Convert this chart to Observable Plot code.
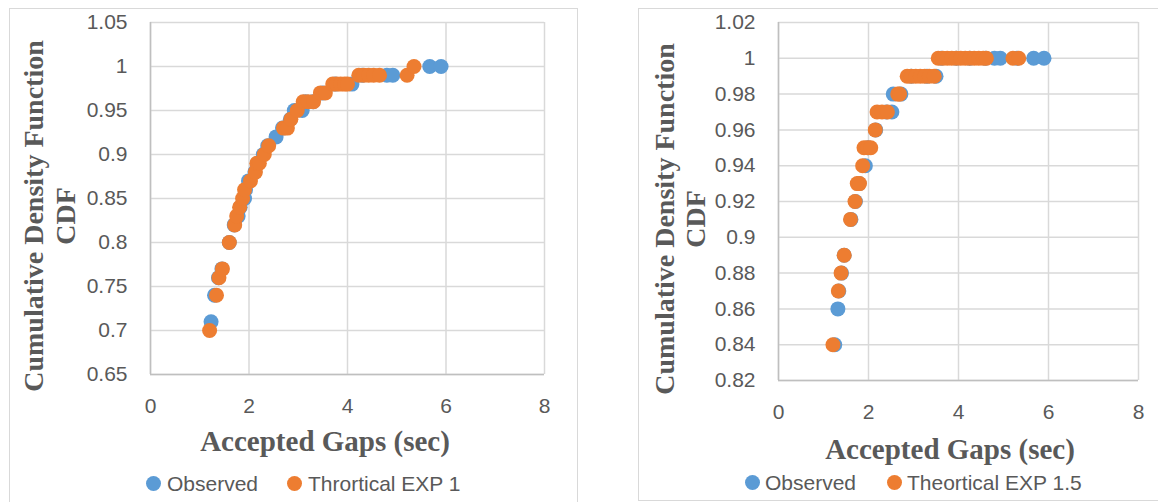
<!DOCTYPE html>
<html>
<head>
<meta charset="utf-8">
<script src="https://cdn.jsdelivr.net/npm/d3@7"></script>
<script src="https://cdn.jsdelivr.net/npm/@observablehq/plot@0.6"></script>
<style>
  html, body { margin: 0; padding: 0; background: #fff; }
  #wrap { position: relative; width: 1158px; height: 502px; overflow: hidden; background: #fff; }
  .panel { position: absolute; border: 1px solid #d9d9d9; box-sizing: border-box; }
  .xtitle { position: absolute; transform: translate(-50%, -50%); font-family: "Liberation Serif", "Times New Roman", serif; font-weight: bold; font-size: 29px; line-height: 29px; color: #595959; white-space: nowrap; }
  .ytitle { position: absolute; transform: translate(-50%, -50%) rotate(-90deg); font-family: "Liberation Serif", "Times New Roman", serif; font-weight: bold; font-size: 28px; color: #595959; white-space: pre; text-align: center; }
  .leg { position: absolute; font-family: "Liberation Sans", Arial, sans-serif; font-size: 21px; line-height: 21px; color: #595959; white-space: nowrap; }
  .dotk { position: absolute; width: 15px; height: 15px; border-radius: 50%; }
</style>
</head>
<body>
<div id="wrap"></div>
<script>
// ---------- data ----------
const xTicks = [0, 2, 4, 6, 8];
const leftYTicks = [0.65, 0.70, 0.75, 0.80, 0.85, 0.90, 0.95, 1.00, 1.05];
const rightYTicks = [0.82, 0.84, 0.86, 0.88, 0.90, 0.92, 0.94, 0.96, 0.98, 1.00, 1.02];

const leftSeries = ["Observed", "Thrortical EXP 1"];
const rightSeries = ["Observed", "Theortical EXP 1.5"];
const seriesColors = ["#5B9BD5", "#ED7D31"];

const xTitle = "Accepted Gaps (sec)";
const yTitleLines = ["Cumulative Density Function", "CDF"];

// Left chart
const leftObsX = [1.23, 1.30, 1.38, 1.45, 1.60, 1.70, 1.78, 1.82, 1.91, 1.93, 1.99, 2.12, 2.17, 2.29, 2.38, 2.55, 2.68, 2.84, 2.92, 3.08, 3.15, 3.30, 3.50, 3.75, 4.09, 4.30, 4.80, 4.92, 5.67, 5.90];
const leftObsY = [0.71, 0.74, 0.76, 0.77, 0.80, 0.82, 0.83, 0.84, 0.85, 0.86, 0.87, 0.88, 0.89, 0.90, 0.91, 0.92, 0.93, 0.94, 0.95, 0.95, 0.96, 0.96, 0.97, 0.98, 0.98, 0.99, 0.99, 0.99, 1.00, 1.00];
const leftTheoX = [1.20, 1.34, 1.39, 1.46, 1.60, 1.71, 1.75, 1.81, 1.87, 1.91, 2.03, 2.13, 2.16, 2.21, 2.31, 2.40, 2.70, 2.78, 2.85, 2.98, 3.10, 3.20, 3.31, 3.45, 3.55, 3.70, 3.78, 3.86, 3.94, 4.00, 4.23, 4.33, 4.43, 4.53, 4.65, 5.21, 5.35];
const leftTheoY = [0.70, 0.74, 0.76, 0.77, 0.80, 0.82, 0.83, 0.84, 0.85, 0.86, 0.87, 0.88, 0.89, 0.89, 0.90, 0.91, 0.93, 0.93, 0.94, 0.95, 0.96, 0.96, 0.96, 0.97, 0.97, 0.98, 0.98, 0.98, 0.98, 0.98, 0.99, 0.99, 0.99, 0.99, 0.99, 0.99, 1.00];

// Right chart
const rightObsX = [1.25, 1.32, 1.34, 1.40, 1.46, 1.61, 1.71, 1.79, 1.93, 1.99, 2.16, 2.40, 2.52, 2.55, 2.72, 2.95, 3.30, 3.50, 3.62, 3.95, 4.25, 4.60, 4.80, 4.93, 5.30, 5.67, 5.90];
const rightObsY = [0.84, 0.86, 0.87, 0.88, 0.89, 0.91, 0.92, 0.93, 0.94, 0.95, 0.96, 0.97, 0.97, 0.98, 0.98, 0.99, 0.99, 0.99, 1.00, 1.00, 1.00, 1.00, 1.00, 1.00, 1.00, 1.00, 1.00];
const rightTheoX = [1.21, 1.33, 1.39, 1.46, 1.60, 1.70, 1.75, 1.80, 1.87, 1.90, 1.98, 2.05, 2.15, 2.19, 2.30, 2.42, 2.65, 2.69, 2.86, 2.95, 3.05, 3.15, 3.25, 3.35, 3.46, 3.55, 3.65, 3.75, 3.85, 3.95, 4.05, 4.15, 4.25, 4.35, 4.45, 4.55, 4.62, 5.21, 5.34];
const rightTheoY = [0.84, 0.87, 0.88, 0.89, 0.91, 0.92, 0.93, 0.93, 0.94, 0.95, 0.95, 0.95, 0.96, 0.97, 0.97, 0.97, 0.98, 0.98, 0.99, 0.99, 0.99, 0.99, 0.99, 0.99, 0.99, 1.00, 1.00, 1.00, 1.00, 1.00, 1.00, 1.00, 1.00, 1.00, 1.00, 1.00, 1.00, 1.00, 1.00];

// ---------- helpers ----------
const toRows = (xs, ys, s) => xs.map((x, i) => ({x, y: ys[i], s}));
const fmt = d => String(+d.toFixed(2));
const wrap = document.getElementById("wrap");

function makeChart(cfg) {
  const data = [
    ...toRows(cfg.obsX, cfg.obsY, cfg.series[0]),
    ...toRows(cfg.theoX, cfg.theoY, cfg.series[1])
  ];
  const yMin = cfg.yTicks[0];
  const svg = Plot.plot({
    width: cfg.width,
    height: 502,
    marginLeft: cfg.mL,
    marginRight: cfg.mR,
    marginTop: cfg.mT,
    marginBottom: 502 - cfg.plotBottom,
    style: {background: "transparent", fontFamily: "'Liberation Sans', Arial, sans-serif", fontSize: "21px", color: "#595959", overflow: "visible"},
    x: {domain: [xTicks[0], xTicks[xTicks.length - 1]]},
    y: {domain: [yMin, cfg.yTicks[cfg.yTicks.length - 1]]},
    color: {domain: cfg.series, range: seriesColors},
    marks: [
      Plot.gridY(cfg.yTicks, {stroke: "#d9d9d9", strokeOpacity: 1, strokeWidth: 1.5}),
      Plot.gridX(xTicks, {stroke: "#d9d9d9", strokeOpacity: 1, strokeWidth: 1.5}),
      Plot.ruleX([xTicks[0]], {stroke: "#bfbfbf", strokeWidth: 1.5}),
      Plot.ruleY([yMin], {stroke: "#bfbfbf", strokeWidth: 1.5}),
      Plot.axisY(cfg.yTicks, {tickSize: 0, tickPadding: 23, tickFormat: fmt, label: null, fontSize: 21}),
      Plot.axisX(xTicks, {tickSize: 0, tickPadding: 24, tickFormat: fmt, label: null, fontSize: 21}),
      Plot.dot(data, {x: "x", y: "y", fill: "s", r: 7.5, stroke: "none"})
    ]
  });
  svg.style.position = "absolute";
  svg.style.left = cfg.left + "px";
  svg.style.top = "0px";
  svg.style.maxWidth = "none";
  wrap.appendChild(svg);

  // axis titles
  const xt = document.createElement("div");
  xt.className = "xtitle";
  xt.textContent = xTitle;
  xt.style.left = cfg.xTitle[0] + "px";
  xt.style.top = cfg.xTitle[1] + "px";
  wrap.appendChild(xt);

  const yt = document.createElement("div");
  yt.className = "ytitle";
  yt.style.lineHeight = cfg.yLine + "px";
  yt.textContent = yTitleLines.join("\n");
  yt.style.left = cfg.yTitle[0] + "px";
  yt.style.top = cfg.yTitle[1] + "px";
  wrap.appendChild(yt);

  // legend
  cfg.series.forEach((name, i) => {
    const d = document.createElement("div");
    d.className = "dotk";
    d.style.background = seriesColors[i];
    d.style.left = (cfg.legDots[i] - 7.5) + "px";
    d.style.top = (cfg.legY - 7.5) + "px";
    wrap.appendChild(d);
    const t = document.createElement("div");
    t.className = "leg";
    t.textContent = name;
    t.style.left = cfg.legText[i] + "px";
    t.style.top = (cfg.legY - 10.5) + "px";
    wrap.appendChild(t);
  });

  // panel border
  const p = document.createElement("div");
  p.className = "panel";
  Object.assign(p.style, cfg.panel);
  wrap.appendChild(p);
}

makeChart({
  left: 0, width: 580, mL: 150, mR: 36, mT: 22, plotBottom: 374,
  yTicks: leftYTicks, series: leftSeries,
  obsX: leftObsX, obsY: leftObsY, theoX: leftTheoX, theoY: leftTheoY,
  xTitle: [325, 441], yTitle: [50, 216], yLine: 32,
  legDots: [153, 294], legText: [167, 308], legY: 483,
  panel: {left: "9px", top: "8px", width: "569px", height: "560px"}
});

makeChart({
  left: 580, width: 578, mL: 198, mR: 20, mT: 22, plotBottom: 380,
  yTicks: rightYTicks, series: rightSeries,
  obsX: rightObsX, obsY: rightObsY, theoX: rightTheoX, theoY: rightTheoY,
  xTitle: [950, 449], yTitle: [680, 219], yLine: 31,
  legDots: [752, 894], legText: [765, 907], legY: 482,
  panel: {left: "638px", top: "8px", width: "600px", height: "493px"}
});
</script>
</body>
</html>
